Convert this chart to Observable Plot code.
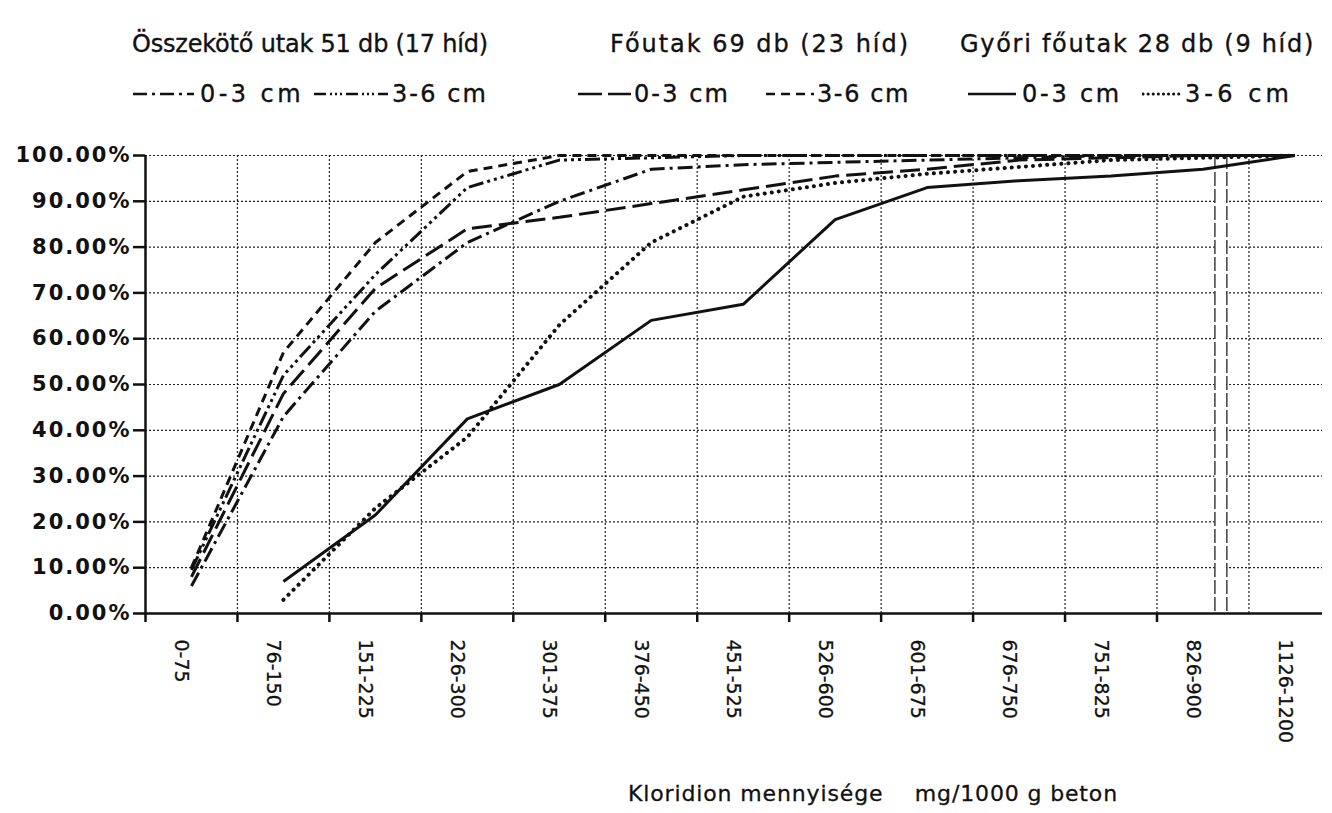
<!DOCTYPE html>
<html>
<head>
<meta charset="utf-8">
<script src="https://cdn.jsdelivr.net/npm/d3@7"></script>
<script src="https://cdn.jsdelivr.net/npm/@observablehq/plot@0.6"></script>
<style>
  body { margin: 0; background: #fff; font-family: "DejaVu Sans", sans-serif; color: #111; }
  #wrap { position: relative; width: 1332px; height: 813px; overflow: hidden; }
  .lg { position: absolute; white-space: nowrap; line-height: 1; color: #111; -webkit-text-stroke: 0.35px #111; }
  .title { font-size: 24px; }
  .item { font-size: 24px; }
  #chart { position: absolute; left: 0; top: 125px; }
  #chart svg text { fill: #111; }
  #chart g[aria-label="y-axis tick label"] text { letter-spacing: 2px; }
  #chart g[aria-label="x-axis tick label"] text { stroke: #111; stroke-width: 0.3px; }
  #caption { position: absolute; left: 628px; top: 783px; font-size: 22px; white-space: pre; line-height: 1; -webkit-text-stroke: 0.3px #111; }
</style>
</head>
<body>
<div id="wrap">
  <div id="legend"></div>
  <div id="chart"></div>
  <div id="caption">Kloridion mennyisége    mg/1000 g beton</div>
</div>
<script>
// ---- data ----
const categories = ["0-75","76-150","151-225","226-300","301-375","376-450","451-525","526-600","601-675","676-750","751-825","826-900","1126-1200"];
const yTicks = [0,10,20,30,40,50,60,70,80,90,100];

const osszekoto03 = [6, 43, 66, 81, 90, 97, 98, 98.5, 99, 99.5, 100, 100, 100];
const osszekoto36 = [9.5, 52, 74, 93, 99, 99.5, 100, 100, 100, 100, 100, 100, 100];
const fout03      = [8, 48, 71, 84, 86.5, 89.5, 92.5, 95.5, 97, 99, 99.5, 100, 100];
const fout36      = [10, 57, 81, 96.5, 100, 100, 100, 100, 100, 100, 100, 100, 100];
const gyor03      = [null, 7, 21.5, 42.5, 50, 64, 67.5, 86, 93, 94.5, 95.5, 97, 100];
const gyor36      = [null, 3, 23, 38.5, 63, 81, 91, 94, 96, 97.5, 99, 99.5, 100];

const groupTitles = ["Összekötő utak 51 db (17 híd)", "Főutak 69 db (23 híd)", "Győri főutak 28 db (9 híd)"];
const depthLabels = ["0-3 cm", "3-6 cm"];

// ---- styles ----
const series = [
  {values: osszekoto03, group: 0, depth: 0, dash: "15,5,3,5", lgDash: "14,5,3,5", cap: "butt", w: 3},
  {values: osszekoto36, group: 0, depth: 1, dash: "15,4,3,4,3,4,3,4", lgDash: "12,4,2,3,2,3,2,4", cap: "butt", w: 3},
  {values: fout03,      group: 1, depth: 0, dash: "20,7", lgDash: "24,6", cap: "butt", w: 3},
  {values: fout36,      group: 1, depth: 1, dash: "9,6", lgDash: "9,6", cap: "butt", w: 3},
  {values: gyor03,      group: 2, depth: 0, dash: null, lgDash: null, cap: "butt", w: 3},
  {values: gyor36,      group: 2, depth: 1, dash: "0.1,7", lgDash: "0.1,5", cap: "round", w: 4}
];

// legend layout (pixels): title left & width; swatch left, swatch width, text left, text width
const titleLeft = [132, 610, 960];
const titleWidth = [356, 300, 355];
const swatchPos = [[132, 63, 200, 104], [313, 76, 392, 96], [577, 55, 634, 96], [765, 50, 817, 93], [967, 50, 1022, 100], [1142, 40, 1185, 108]];

function fitWidth(el, target) {
  const w = el.getBoundingClientRect().width;
  const n = el.textContent.length;
  el.style.letterSpacing = ((target - w) / n) + "px";
}

const legend = document.getElementById("legend");
groupTitles.forEach((t, g) => {
  const d = document.createElement("div");
  d.className = "lg title";
  d.style.left = titleLeft[g] + "px";
  d.style.top = "32px";
  d.textContent = t;
  legend.appendChild(d);
  fitWidth(d, titleWidth[g]);
});
series.forEach((s, k) => {
  const [sx, sw, tx, tw] = swatchPos[k];
  const svg = document.createElementNS("http://www.w3.org/2000/svg", "svg");
  svg.setAttribute("width", sw);
  svg.setAttribute("height", 10);
  svg.style.left = sx + "px";
  svg.style.top = "89px";
  svg.style.position = "absolute";
  const ln = document.createElementNS("http://www.w3.org/2000/svg", "line");
  ln.setAttribute("x1", 1); ln.setAttribute("x2", sw - 1);
  ln.setAttribute("y1", 5); ln.setAttribute("y2", 5);
  ln.setAttribute("stroke", "#111");
  ln.setAttribute("stroke-width", s.cap === "round" ? 3 : 2.4);
  ln.setAttribute("stroke-linecap", s.cap);
  if (s.lgDash) ln.setAttribute("stroke-dasharray", s.lgDash);
  svg.appendChild(ln);
  legend.appendChild(svg);
  const d = document.createElement("div");
  d.className = "lg item";
  d.style.left = tx + "px";
  d.style.top = "82px";
  d.textContent = depthLabels[s.depth];
  legend.appendChild(d);
  fitWidth(d, tw);
});
fitWidth(document.getElementById("caption"), 490);

// ---- chart ----
const centers = categories.map((_, i) => i);
const boundaries = categories.slice(1).map((_, i) => i + 0.5);
const tickBoundaries = [-0.5, ...boundaries.slice(0, 11)];
const breakXs = [11.13, 11.26];

const lineMarks = series.map(s => {
  const rows = s.values.map((v, i) => ({i, v})).filter(d => d.v != null);
  return Plot.line(rows, {
    x: "i", y: "v", stroke: "#111", strokeWidth: s.w,
    strokeDasharray: s.dash || undefined, strokeLinecap: s.cap, strokeLinejoin: "round"
  });
});

const chart = Plot.plot({
  width: 1332,
  height: 640,
  marginLeft: 145,
  marginRight: 10,
  marginTop: 30,
  marginBottom: 152,
  style: {fontFamily: "DejaVu Sans, sans-serif", color: "#111", background: "#fff"},
  x: {type: "linear", domain: [-0.5, 12.3], axis: null},
  y: {domain: [0, 100], axis: null},
  marks: [
    Plot.ruleY(yTicks.filter(d => d > 0), {stroke: "#222", strokeWidth: 1.2, strokeDasharray: "2,2"}),
    Plot.ruleX(boundaries, {stroke: "#222", strokeWidth: 1.2, strokeDasharray: "2,2"}),
    Plot.rect([{a: breakXs[0], b: breakXs[1]}], {x1: "a", x2: "b", y1: 0, y2: 100, fill: "#fff"}),
    Plot.ruleX(breakXs, {stroke: "#222", strokeWidth: 1.3, strokeDasharray: "14,3"}),
    Plot.ruleY([0], {stroke: "#111", strokeWidth: 2.5}),
    Plot.ruleX([-0.5], {stroke: "#111", strokeWidth: 2.5}),
    Plot.axisX({ticks: tickBoundaries, tickSize: 9, tickFormat: () => "", strokeWidth: 2.5, label: null}),
    Plot.axisY({ticks: yTicks, tickFormat: d => d.toFixed(2) + "%", tickSize: 12, tickPadding: 2,
                fontSize: 21, fontWeight: "bold", strokeWidth: 2.5, label: null}),
    ...lineMarks,
    Plot.axisX({ticks: centers, tickFormat: i => categories[i], tickSize: 0, tickPadding: 26,
                tickRotate: 90, fontSize: 19, dx: -10, label: null})
  ]
});
document.getElementById("chart").appendChild(chart);
</script>
</body>
</html>
